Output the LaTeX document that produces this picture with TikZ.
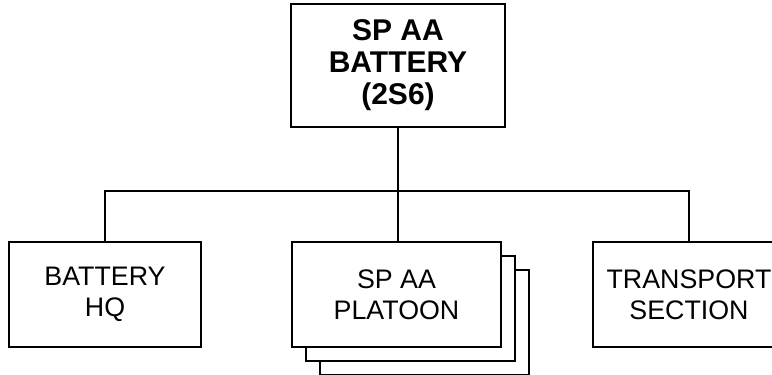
\documentclass[tikz,border=0pt]{standalone}
\usepackage{fontspec}
\setmainfont{Liberation Sans}
\tikzset{
  unitbox/.style={draw,line width=1.6pt,fill=white,align=center,inner sep=0pt,
    minimum width=192pt,minimum height=105pt,font=\fontsize{26.8}{31}\selectfont},
  link/.style={line width=1.6pt}
}
\begin{document}
\begin{tikzpicture}[x=1pt,y=-1pt]
  \useasboundingbox (0,0) rectangle (772,375);
  % parent unit
  \node[unitbox,minimum width=214pt,minimum height=123pt,font=\fontsize{30}{32}\selectfont\bfseries] (bty) at (398,65.5) {SP AA\\BATTERY\\(2S6)};
  % subordinate units
  \node[unitbox] (hq) at (105,294.5) {BATTERY\\HQ};
  \node[unitbox,minimum width=209pt] (plt3) at (424.5,322.5) {};
  \node[unitbox,minimum width=209pt] (plt2) at (410.5,308.5) {};
  \node[unitbox,minimum width=209pt] (plt) at (396.5,294.5) {SP AA\\PLATOON};
  \node[unitbox] (trans) at (689,294.5) {TRANSPORT\\SECTION};
  % connectors
  \coordinate (bus) at (bty.south |- 0,191);
  \draw[link] (bty.south) -- (bus);
  \draw[link] (hq.north) |- (bus) -| (trans.north);
  \draw[link] (bus) -- (bus |- plt.north);
\end{tikzpicture}
\end{document}
